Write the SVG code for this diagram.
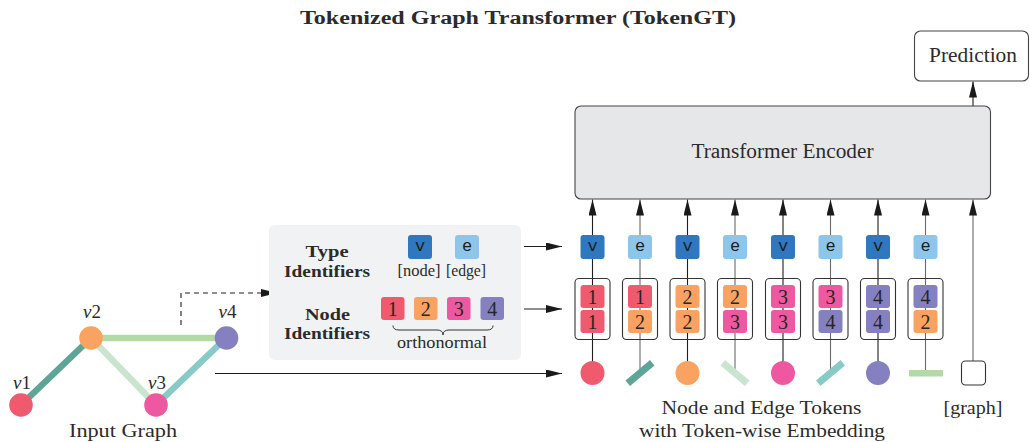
<svg xmlns="http://www.w3.org/2000/svg" width="1030" height="442" viewBox="0 0 1030 442">
<style>
.t{font-family:"Liberation Serif","Times New Roman",serif;fill:#2b2b2b}
.b{font-weight:bold}
.dg{font-family:"Liberation Serif",serif;font-size:20px;fill:#262626;text-anchor:middle}
.ty{font-family:"Liberation Mono",monospace;font-size:17px;fill:#1e1e1e;text-anchor:middle}
.cont{fill:none;stroke:#333;stroke-width:1.1}
.red{fill:#F05A6E}.org{fill:#F9A262}.pnk{fill:#EE58A0}.pur{fill:#8580BF}
.vb{fill:#2F78BF}.eb{fill:#8EC6EB}
.ln{stroke:#1e1e1e;stroke-width:1.1;fill:none}
.lg{stroke:#6a6a6a;stroke-width:1.1;fill:none}
</style>
<defs>
<marker id="ah" viewBox="0 0 16 8" refX="16" refY="4" markerWidth="16" markerHeight="8" markerUnits="userSpaceOnUse" orient="auto">
<path d="M0,0 L16,4 L0,8 z" fill="#1a1a1a"/>
</marker>
</defs>
<rect width="1030" height="442" fill="#fff"/>

<text class="t b" x="518" y="24" text-anchor="middle" font-size="18" textLength="436" lengthAdjust="spacingAndGlyphs">Tokenized Graph Transformer (TokenGT)</text>

<g id="connectors">
<path class="ln" d="M181,325 V293 H277" stroke-dasharray="5,4" marker-end="url(#ah)" stroke="#444"/>
<path class="ln" d="M215,373.5 H562" marker-end="url(#ah)"/>
<path class="ln" d="M524,246.5 H562" marker-end="url(#ah)"/>
<path class="ln" d="M524,309 H562" marker-end="url(#ah)"/>
<path class="ln" d="M592.5,373 V199.5" marker-end="url(#ah)"/>
<path class="lg" d="M640,373 V199.5" marker-end="url(#ah)"/>
<path class="ln" d="M687.5,373 V199.5" marker-end="url(#ah)"/>
<path class="lg" d="M735,373 V199.5" marker-end="url(#ah)"/>
<path class="ln" d="M783,373 V199.5" marker-end="url(#ah)"/>
<path class="lg" d="M830.5,373 V199.5" marker-end="url(#ah)"/>
<path class="ln" d="M878,373 V199.5" marker-end="url(#ah)"/>
<path class="lg" d="M925.5,370 V199.5" marker-end="url(#ah)"/>
<path class="lg" d="M973,361 V199.5" marker-end="url(#ah)" stroke="#555"/>
<path class="ln" d="M973,106 V81.5" marker-end="url(#ah)"/>
</g>

<g id="input-graph">
<line x1="21" y1="405" x2="91" y2="338" stroke="#5FA597" stroke-width="6.5"/>
<line x1="91" y1="338" x2="226" y2="338" stroke="#B3DAA5" stroke-width="6.5"/>
<line x1="91" y1="338" x2="156" y2="405" stroke="#C9E4CF" stroke-width="6.5"/>
<line x1="156" y1="405" x2="226" y2="338" stroke="#88CAC5" stroke-width="6.5"/>
<g id="v1"><circle cx="21" cy="405" r="11.8" class="red"/><text class="t" x="22" y="389" text-anchor="middle" font-size="19"><tspan font-style="italic">v</tspan>1</text></g>
<g id="v2"><circle cx="91" cy="338" r="11.8" class="org"/><text class="t" x="92" y="318" text-anchor="middle" font-size="19"><tspan font-style="italic">v</tspan>2</text></g>
<g id="v3"><circle cx="156" cy="405" r="11.8" class="pnk"/><text class="t" x="157" y="389" text-anchor="middle" font-size="19"><tspan font-style="italic">v</tspan>3</text></g>
<g id="v4"><circle cx="226.5" cy="338" r="11.8" class="pur"/><text class="t" x="227.5" y="318" text-anchor="middle" font-size="19"><tspan font-style="italic">v</tspan>4</text></g>
<text class="t" x="123" y="437" text-anchor="middle" font-size="19" textLength="108" lengthAdjust="spacingAndGlyphs">Input Graph</text>
</g>

<g id="identifiers">
<rect x="269" y="225" width="252" height="135" rx="6" fill="#F1F2F4"/>
<text class="t b" x="327" y="257" text-anchor="middle" font-size="17" textLength="43" lengthAdjust="spacingAndGlyphs">Type</text>
<text class="t b" x="327" y="277" text-anchor="middle" font-size="17" textLength="86" lengthAdjust="spacingAndGlyphs">Identifiers</text>
<text class="t b" x="327.5" y="320" text-anchor="middle" font-size="17" textLength="45" lengthAdjust="spacingAndGlyphs">Node</text>
<text class="t b" x="327" y="339" text-anchor="middle" font-size="17" textLength="86" lengthAdjust="spacingAndGlyphs">Identifiers</text>
<rect x="408" y="235" width="24" height="24" rx="3" class="vb"/><text class="ty" x="420" y="251">v</text>
<rect x="455" y="235" width="24" height="24" rx="3" class="eb"/><text class="ty" x="467" y="251">e</text>
<text class="t" x="419" y="276" text-anchor="middle" font-size="17" textLength="43" lengthAdjust="spacingAndGlyphs">[node]</text>
<text class="t" x="466" y="276" text-anchor="middle" font-size="17" textLength="40" lengthAdjust="spacingAndGlyphs">[edge]</text>
<rect x="381" y="297" width="23.5" height="23" rx="3" class="red"/><text class="dg" x="392.8" y="316">1</text>
<rect x="414" y="297" width="23.5" height="23" rx="3" class="org"/><text class="dg" x="425.8" y="316">2</text>
<rect x="447" y="297" width="23.5" height="23" rx="3" class="pnk"/><text class="dg" x="458.8" y="316">3</text>
<rect x="480.5" y="297" width="23.5" height="23" rx="3" class="pur"/><text class="dg" x="492.3" y="316">4</text>
<path d="M393,325.5 q0,4.5 6,4.5 H437 q6,0 6,5 q0,-5 6,-5 H487 q6,0 6,-4.5" fill="none" stroke="#333" stroke-width="1"/>
<text class="t" x="442" y="348" text-anchor="middle" font-size="17" textLength="90" lengthAdjust="spacingAndGlyphs">orthonormal</text>
</g>

<g id="tok1">
<rect x="580.5" y="235" width="24" height="24" rx="3" class="vb"/><text class="ty" x="592.5" y="251">v</text>
<rect x="575" y="278.5" width="35" height="61" rx="4" class="cont"/>
<rect x="580.5" y="285" width="24" height="23" rx="3" class="red"/><text class="dg" x="592.5" y="304">1</text>
<rect x="580.5" y="310" width="24" height="23" rx="3" class="red"/><text class="dg" x="592.5" y="329">1</text>
<circle cx="592.5" cy="373" r="12" class="red"/>
</g>
<g id="tok2">
<rect x="628" y="235" width="24" height="24" rx="3" class="eb"/><text class="ty" x="640" y="251">e</text>
<rect x="622.5" y="278.5" width="35" height="61" rx="4" class="cont"/>
<rect x="628" y="285" width="24" height="23" rx="3" class="red"/><text class="dg" x="640" y="304">1</text>
<rect x="628" y="310" width="24" height="23" rx="3" class="org"/><text class="dg" x="640" y="329">2</text>
<rect x="624" y="369.5" width="32" height="7" fill="#5FA597" transform="rotate(-40 640 373)"/>
</g>
<g id="tok3">
<rect x="675.5" y="235" width="24" height="24" rx="3" class="vb"/><text class="ty" x="687.5" y="251">v</text>
<rect x="670" y="278.5" width="35" height="61" rx="4" class="cont"/>
<rect x="675.5" y="285" width="24" height="23" rx="3" class="org"/><text class="dg" x="687.5" y="304">2</text>
<rect x="675.5" y="310" width="24" height="23" rx="3" class="org"/><text class="dg" x="687.5" y="329">2</text>
<circle cx="687.5" cy="373" r="12" class="org"/>
</g>
<g id="tok4">
<rect x="723" y="235" width="24" height="24" rx="3" class="eb"/><text class="ty" x="735" y="251">e</text>
<rect x="717.5" y="278.5" width="35" height="61" rx="4" class="cont"/>
<rect x="723" y="285" width="24" height="23" rx="3" class="org"/><text class="dg" x="735" y="304">2</text>
<rect x="723" y="310" width="24" height="23" rx="3" class="pnk"/><text class="dg" x="735" y="329">3</text>
<rect x="719" y="369.5" width="32" height="7" fill="#C9E4CF" transform="rotate(40 735 373)"/>
</g>
<g id="tok5">
<rect x="771" y="235" width="24" height="24" rx="3" class="vb"/><text class="ty" x="783" y="251">v</text>
<rect x="765.5" y="278.5" width="35" height="61" rx="4" class="cont"/>
<rect x="771" y="285" width="24" height="23" rx="3" class="pnk"/><text class="dg" x="783" y="304">3</text>
<rect x="771" y="310" width="24" height="23" rx="3" class="pnk"/><text class="dg" x="783" y="329">3</text>
<circle cx="783" cy="373" r="12" class="pnk"/>
</g>
<g id="tok6">
<rect x="818.5" y="235" width="24" height="24" rx="3" class="eb"/><text class="ty" x="830.5" y="251">e</text>
<rect x="813" y="278.5" width="35" height="61" rx="4" class="cont"/>
<rect x="818.5" y="285" width="24" height="23" rx="3" class="pnk"/><text class="dg" x="830.5" y="304">3</text>
<rect x="818.5" y="310" width="24" height="23" rx="3" class="pur"/><text class="dg" x="830.5" y="329">4</text>
<rect x="814.5" y="369.5" width="32" height="7" fill="#88CAC5" transform="rotate(-40 830.5 373)"/>
</g>
<g id="tok7">
<rect x="866" y="235" width="24" height="24" rx="3" class="vb"/><text class="ty" x="878" y="251">v</text>
<rect x="860.5" y="278.5" width="35" height="61" rx="4" class="cont"/>
<rect x="866" y="285" width="24" height="23" rx="3" class="pur"/><text class="dg" x="878" y="304">4</text>
<rect x="866" y="310" width="24" height="23" rx="3" class="pur"/><text class="dg" x="878" y="329">4</text>
<circle cx="878" cy="373" r="12" class="pur"/>
</g>
<g id="tok8">
<rect x="913.5" y="235" width="24" height="24" rx="3" class="eb"/><text class="ty" x="925.5" y="251">e</text>
<rect x="908" y="278.5" width="35" height="61" rx="4" class="cont"/>
<rect x="913.5" y="285" width="24" height="23" rx="3" class="pur"/><text class="dg" x="925.5" y="304">4</text>
<rect x="913.5" y="310" width="24" height="23" rx="3" class="org"/><text class="dg" x="925.5" y="329">2</text>
<rect x="909" y="370" width="34" height="6.5" fill="#B3DAA5"/>
</g>
<g id="graph-token">
<rect x="961.5" y="361" width="24" height="24" rx="4" fill="#fff" stroke="#333" stroke-width="1.1"/>
<text class="t" x="973" y="414" text-anchor="middle" font-size="18" textLength="59" lengthAdjust="spacingAndGlyphs">[graph]</text>
</g>

<text class="t" x="761.5" y="414" text-anchor="middle" font-size="19" textLength="200" lengthAdjust="spacingAndGlyphs">Node and Edge Tokens</text>
<text class="t" x="762" y="437" text-anchor="middle" font-size="19" textLength="246" lengthAdjust="spacingAndGlyphs">with Token-wise Embedding</text>

<g id="encoder">
<rect x="575" y="106" width="415.5" height="93" rx="6" fill="#E6E7E9" stroke="#444" stroke-width="1.1"/>
<text class="t" x="782.5" y="158" text-anchor="middle" font-size="20" textLength="182" lengthAdjust="spacingAndGlyphs">Transformer Encoder</text>
</g>
<g id="prediction">
<rect x="914.5" y="31" width="114" height="50" rx="6" fill="#fff" stroke="#444" stroke-width="1.1"/>
<text class="t" x="973" y="61.5" text-anchor="middle" font-size="20" textLength="88" lengthAdjust="spacingAndGlyphs">Prediction</text>
</g>
</svg>
